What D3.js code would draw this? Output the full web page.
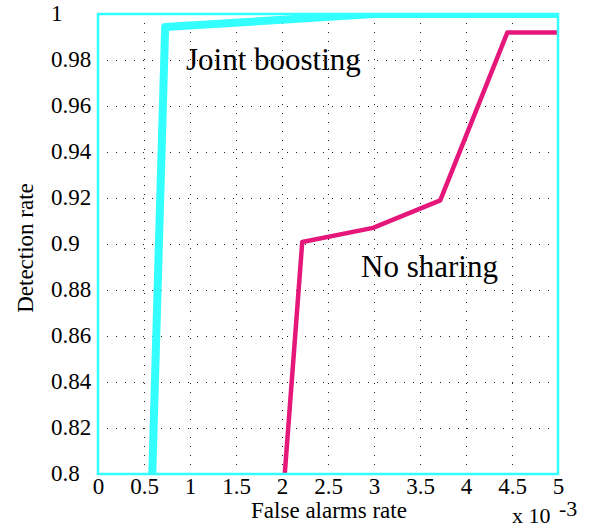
<!DOCTYPE html>
<html lang="en">
<head>
<meta charset="UTF-8" />
<script src="https://d3js.org/d3.v7.min.js"></script>
<style>
  body { margin: 0; background: #fff; }
  text { font-family: "Liberation Serif", "Times New Roman", serif; fill: #000; }
</style>
</head>
<body>
<svg width="591" height="527"></svg>
<script>
// chart values
var xTicks = [0, 0.5, 1, 1.5, 2, 2.5, 3, 3.5, 4, 4.5, 5];
var yTicks = [0.8, 0.82, 0.84, 0.86, 0.88, 0.9, 0.92, 0.94, 0.96, 0.98, 1];
var yTickLabels = ["0.8", "0.82", "0.84", "0.86", "0.88", "0.9", "0.92", "0.94", "0.96", "0.98", "1"];

var jointX = [0.59, 0.73, 3.0, 5.0];
var jointY = [0.8, 0.9943, 1.0, 1.0];
var noShareX = [2.03, 2.22, 2.99, 3.72, 4.45, 5.0];
var noShareY = [0.8, 0.9009, 0.907, 0.919, 0.992, 0.992];

var cyan = "#33ffff", magenta = "#e6177b";

var svg = d3.select("svg");
var pl = 98, pr = 558, pt = 14, pb = 474;

var x = d3.scaleLinear().domain([0, 5]).range([pl, pr]);
var y = d3.scaleLinear().domain([0.8, 1]).range([pb, pt]);

// grid lines (dotted)
var grid = svg.append("g");
grid.append("g")
  .attr("transform", "translate(0," + pb + ")")
  .call(d3.axisBottom(x).tickValues(xTicks).tickSize(-(pb - pt)).tickFormat(""))
  .call(g => g.select(".domain").remove())
  .call(g => g.selectAll("line").attr("stroke", "#222").attr("stroke-dasharray", "1,8"));
grid.append("g")
  .attr("transform", "translate(" + pl + ",0)")
  .call(d3.axisLeft(y).tickValues(yTicks).tickSize(-(pr - pl)).tickFormat(""))
  .call(g => g.select(".domain").remove())
  .call(g => g.selectAll("line").attr("stroke", "#222").attr("stroke-dasharray", "1,8"));

// tick labels
svg.append("g")
  .attr("transform", "translate(0," + pb + ")")
  .call(d3.axisBottom(x).tickValues(xTicks).tickSize(0).tickPadding(4).tickFormat(d => String(d)))
  .call(g => g.select(".domain").remove())
  .call(g => g.selectAll("text").attr("font-size", 23).attr("font-family", "Liberation Serif"));

svg.append("g")
  .attr("transform", "translate(" + pl + ",0)")
  .call(d3.axisLeft(y).tickValues(yTicks).tickSize(0).tickFormat((d, i) => yTickLabels[i]))
  .call(g => g.select(".domain").remove())
  .call(g => g.selectAll("text")
    .attr("font-size", 23).attr("font-family", "Liberation Serif")
    .attr("text-anchor", "start").attr("x", 51 - pl).attr("dy", "0.3em"));

// clip to plot area
svg.append("clipPath").attr("id", "plotclip")
  .append("rect").attr("x", pl).attr("y", pt)
  .attr("width", pr - pl).attr("height", pb - pt);

var line = d3.line().x(d => x(d[0])).y(d => y(d[1]));

svg.append("path")
  .datum(d3.zip(noShareX, noShareY))
  .attr("clip-path", "url(#plotclip)")
  .attr("fill", "none").attr("stroke", magenta).attr("stroke-width", 4.5)
  .attr("stroke-linejoin", "round")
  .attr("d", line);

svg.append("path")
  .datum(d3.zip(jointX, jointY))
  .attr("clip-path", "url(#plotclip)")
  .attr("fill", "none").attr("stroke", cyan).attr("stroke-width", 8)
  .attr("stroke-linejoin", "round")
  .attr("d", line);

// axes box
svg.append("rect")
  .attr("x", pl).attr("y", pt)
  .attr("width", pr - pl).attr("height", pb - pt)
  .attr("fill", "none").attr("stroke", cyan).attr("stroke-width", 2.5);

// labels
svg.append("text").attr("x", 186).attr("y", 70).attr("font-size", 31).text("Joint boosting");
svg.append("text").attr("x", 361).attr("y", 277).attr("font-size", 31).text("No sharing");

svg.append("text").attr("x", 329).attr("y", 518).attr("text-anchor", "middle")
  .attr("font-size", 23).text("False alarms rate");
svg.append("text").attr("transform", "translate(33,248) rotate(-90)")
  .attr("text-anchor", "middle").attr("font-size", 23).text("Detection rate");

svg.append("text").attr("x", 512).attr("y", 523).attr("font-size", 22).text("x 10");
svg.append("text").attr("x", 559).attr("y", 516).attr("font-size", 22).text("-3");
</script>
</body>
</html>
